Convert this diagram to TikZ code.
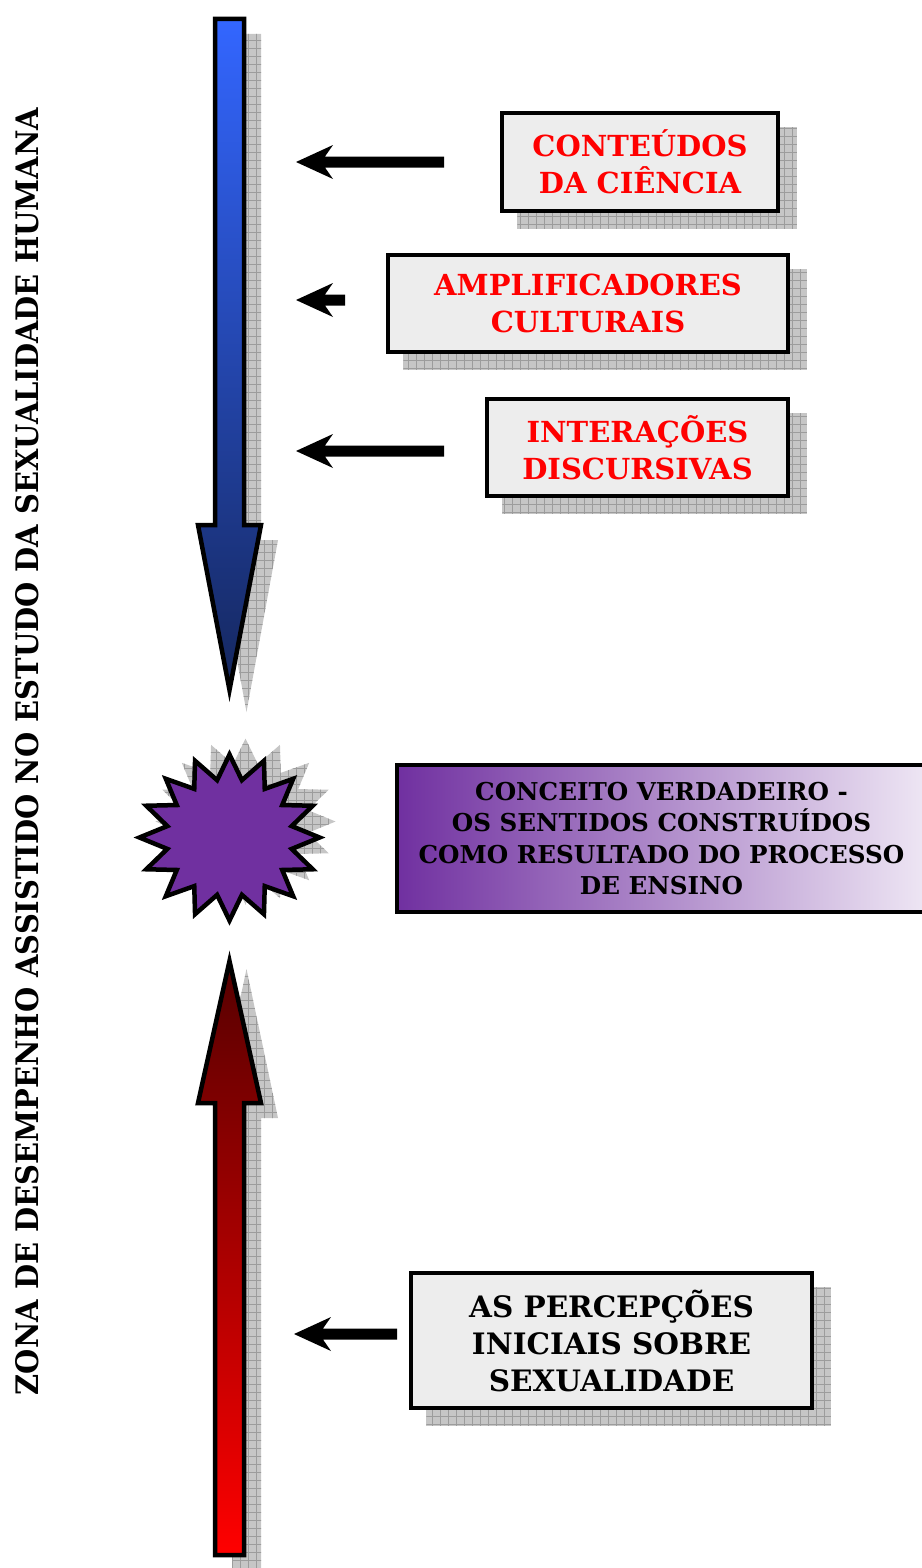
\documentclass[tikz,border=0pt]{standalone}
\usepackage{fontspec}
\setmainfont{DejaVu Serif}
\usetikzlibrary{shapes.geometric,patterns.meta,backgrounds}
\definecolor{bluetop}{HTML}{3366FF}
\definecolor{bluebot}{HTML}{15275E}
\definecolor{redtop}{HTML}{560000}
\definecolor{redbot}{HTML}{FF0000}
\definecolor{starpurple}{HTML}{7030A0}
\definecolor{lightpurple}{HTML}{EEE6F4}
\definecolor{shadowgray}{HTML}{C6C6C6}
\definecolor{gridgray}{HTML}{9C9C9C}
\definecolor{boxgray}{HTML}{EDEDED}
\definecolor{textred}{HTML}{FF0000}
\tikzset{
  shadowfill/.style={fill=shadowgray,
    postaction={pattern={Lines[distance=8pt,angle=0,line width=0.5pt]}, pattern color=gridgray},
    postaction={pattern={Lines[distance=8pt,angle=90,line width=0.5pt]}, pattern color=gridgray}},
  infobox/.style={draw=black, line width=3.5, fill=boxgray, align=center, inner sep=0,
    font=\fontsize{29}{37}\selectfont\bfseries},
  bigarrow/.style={draw=black, line width=4.5, line join=miter},
  burststyle/.style={star, star points=16, star point ratio=1.42, minimum size=166, inner sep=0,
    xscale=1.085, transform shape},
}
% tip x, y, tail x
\newcommand\blockarrow[3]{\fill[black] (#1,#2) -- (#1+37,#2-17) -- (#1+29,#2-5.5) -- (#3,#2-5.5) -- (#3,#2+5.5) -- (#1+29,#2+5.5) -- (#1+37,#2+17) -- cycle;}
\begin{document}
\begin{tikzpicture}[x=1pt,y=-1pt]
\useasboundingbox (0,0) rectangle (921,1568);

% vertical title
\node[rotate=90, inner sep=0] (title) at (27.5,751.5)
  {\resizebox{1287pt}{23pt}{\bfseries ZONA DE DESEMPENHO ASSISTIDO NO ESTUDO DA SEXUALIDADE HUMANA}};

% big blue arrow
\draw[bigarrow, top color=bluetop, bottom color=bluebot]
  (215,19) -- (244,19) -- (244,525) -- (261,525) -- (229.5,690) -- (198,525) -- (215,525) -- cycle;

% big red arrow
\draw[bigarrow, top color=redtop, bottom color=redbot]
  (229.5,961) -- (261,1103) -- (244,1103) -- (244,1555) -- (215,1555) -- (215,1103) -- (198,1103) -- cycle;

% burst
\node[burststyle, draw=black, line width=4.5, fill=starpurple] (burst) at (229.5,837.5) {};

% info boxes
\node[infobox, minimum width=276, minimum height=98, text=textred] (b1) at (640,162) {CONTEÚDOS\\DA CIÊNCIA};
\node[infobox, minimum width=400, minimum height=97, text=textred] (b2) at (588,303.5) {AMPLIFICADORES\\CULTURAIS};
\node[infobox, minimum width=301, minimum height=97, text=textred] (b3) at (637.5,447.5) {INTERAÇÕES\\DISCURSIVAS};
\node[infobox, minimum width=401, minimum height=135, text=black, font=\fontsize{29.5}{37}\selectfont\bfseries] (b4) at (611.5,1340.5) {AS PERCEPÇÕES\\INICIAIS SOBRE\\SEXUALIDADE};

% concept box
\node[draw=black, line width=3.5, left color=starpurple, right color=lightpurple, minimum width=529,
  minimum height=147, align=center, inner sep=0, font=\fontsize{24.6}{31.3}\selectfont\bfseries]
  (concept) at (661.5,838.5) {CONCEITO VERDADEIRO -\\OS SENTIDOS CONSTRUÍDOS\\COMO RESULTADO DO PROCESSO\\DE ENSINO};

% small arrows
\blockarrow{296}{162}{444}
\blockarrow{296}{300}{345}
\blockarrow{296}{451}{444}
\blockarrow{294}{1334}{397}

% shadows
\begin{scope}[on background layer]
  \path[shadowfill] ([shift={(17,16)}]b1.south west) rectangle ([shift={(17,16)}]b1.north east);
  \path[shadowfill] ([shift={(17,16)}]b2.south west) rectangle ([shift={(17,16)}]b2.north east);
  \path[shadowfill] ([shift={(17,16)}]b3.south west) rectangle ([shift={(17,16)}]b3.north east);
  \path[shadowfill] ([shift={(17,16)}]b4.south west) rectangle ([shift={(17,16)}]b4.north east);
  \begin{scope}[shift={(17,15)}]
    \path[shadowfill] (215,19) -- (244,19) -- (244,525) -- (261,525) -- (229.5,697) -- (198,525) -- (215,525) -- cycle;
    \path[shadowfill] (229.5,954) -- (261,1103) -- (244,1103) -- (244,1555) -- (215,1555) -- (215,1103) -- (198,1103) -- cycle;
  \end{scope}
  \node[burststyle, shadowfill] at ([shift={(16,-16)}]burst.center) {};
\end{scope}
\end{tikzpicture}
\end{document}
